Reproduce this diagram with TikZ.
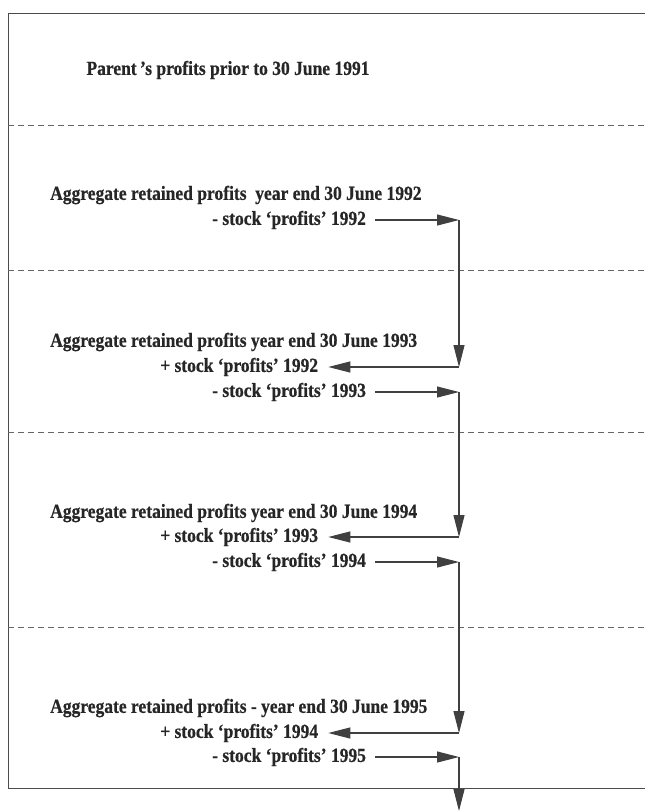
\documentclass[tikz,border=0pt]{standalone}
\usepackage{fontspec}
\setmainfont[FakeStretch=0.875,FakeBold=0.6]{Liberation Serif}
\usetikzlibrary{arrows.meta}
\tikzset{
	txt/.style={inner sep=0pt, font=\fontsize{20}{22}\selectfont\bfseries, text=black!85},
	flow/.style={line width=1.1pt, color=black!75, -{Triangle[length=22pt,width=11pt]}},
	sep/.style={line width=0.8pt, color=black!60, dash pattern=on 6pt off 4pt},
}

\begin{document}
\begin{tikzpicture}[x=1pt,y=-1pt]
		%%%%% START %%%%%
		\useasboundingbox (0, 0) rectangle (645, 812);
		
		\draw[line width=1pt, color=black!70] (645, 13) -- (8, 13) -- (8, 788) -- (645, 788);
		\draw[sep] (8, 125) -- (645, 125);
		\draw[sep] (8, 270) -- (645, 270);
		\draw[sep] (8, 432) -- (645, 432);
		\draw[sep] (8, 627) -- (645, 627);
		
		\node[txt] (parent) at (228, 70) {Parent\,'s profits prior to 30 June 1991};
		
		\node[txt, anchor=west] (a92) at (50, 195) {Aggregate retained profits\ \ year end 30 June 1992};
		\node[txt, anchor=west] (m92) at (212, 220) {- stock `profits' 1992};
		
		\node[txt, anchor=west] (a93) at (50, 342) {Aggregate retained profits year end 30 June 1993};
		\node[txt, anchor=west] (p92) at (160, 367) {+ stock `profits' 1992};
		\node[txt, anchor=west] (m93) at (212, 392) {- stock `profits' 1993};
		
		\node[txt, anchor=west] (a94) at (50, 513) {Aggregate retained profits year end 30 June 1994};
		\node[txt, anchor=west] (p93) at (160, 537) {+ stock `profits' 1993};
		\node[txt, anchor=west] (m94) at (212, 562) {- stock `profits' 1994};
		
		\node[txt, anchor=west] (a95) at (50, 708) {Aggregate retained profits - year end 30 June 1995};
		\node[txt, anchor=west] (p94) at (160, 733) {+ stock `profits' 1994};
		\node[txt, anchor=west] (m95) at (212, 757) {- stock `profits' 1995};
		
		\coordinate (rx) at (459, 0);
		\coordinate (t92) at (m92 -| rx);
		\coordinate (b92) at (p92 -| rx);
		\coordinate (t93) at (m93 -| rx);
		\coordinate (b93) at (p93 -| rx);
		\coordinate (t94) at (m94 -| rx);
		\coordinate (b94) at (p94 -| rx);
		\coordinate (t95) at (m95 -| rx);
		\coordinate (out) at (459, 811);
		
		\draw[flow, shorten <=9pt] (m92.east) -- (t92);
		\draw[flow] (t92) -- (b92);
		\draw[flow, shorten >=10pt] (b92) -- (p92.east);
		
		\draw[flow, shorten <=9pt] (m93.east) -- (t93);
		\draw[flow] (t93) -- (b93);
		\draw[flow, shorten >=10pt] (b93) -- (p93.east);
		
		\draw[flow, shorten <=9pt] (m94.east) -- (t94);
		\draw[flow] (t94) -- (b94);
		\draw[flow, shorten >=10pt] (b94) -- (p94.east);
		
		\draw[flow, shorten <=9pt] (m95.east) -- (t95);
		\draw[flow] (t95) -- (out);
		
		%%%%% END %%%%%
	\end{tikzpicture}
\end{document}
